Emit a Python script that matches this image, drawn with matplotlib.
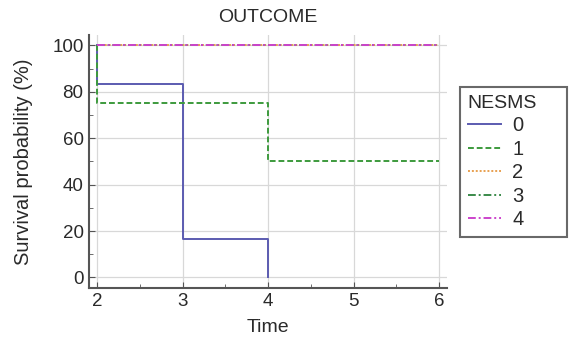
import matplotlib
matplotlib.use("Agg")
import matplotlib.pyplot as plt
from matplotlib.ticker import MultipleLocator

plt.rcParams["font.family"] = ["Liberation Sans", "DejaVu Sans"]

# Kaplan-Meier step data per NESMS group
groups = ["0", "1", "2", "3", "4"]
times = {
    "0": [2, 2, 3, 4],
    "1": [2, 2, 4, 6],
    "2": [2, 6],
    "3": [2, 6],
    "4": [2, 6],
}
survival = {
    "0": [100, 83.33, 16.67, 0],
    "1": [100, 75, 50, 50],
    "2": [100, 100],
    "3": [100, 100],
    "4": [100, 100],
}
colors = {"0": "#5b5bb0", "1": "#3d9a3d", "2": "#e8a050", "3": "#3a8a4a", "4": "#cc44cc"}
styles = {"0": "-", "1": (0, (3, 1.5)), "2": (0, (1, 1)), "3": (0, (4, 1.5, 1, 1.5)), "4": (0, (4, 1.5, 1, 1.5))}

fig = plt.figure(figsize=(5.75, 3.46), dpi=100)
ax = fig.add_axes([0.155, 0.168, 0.622, 0.731])

for g in groups:
    ax.step(times[g], survival[g], where="post", color=colors[g],
            linestyle=styles[g], linewidth=1.4, label=g)

ax.set_xlim(1.905, 6.09)
ax.set_ylim(-4.5, 104.5)
ax.xaxis.set_major_locator(MultipleLocator(1))
ax.xaxis.set_minor_locator(MultipleLocator(0.5))
ax.yaxis.set_major_locator(MultipleLocator(20))
ax.yaxis.set_minor_locator(MultipleLocator(10))
ax.grid(True, which="major", color="#d8d8d8", linewidth=0.9)
ax.set_axisbelow(True)
ax.tick_params(which="both", direction="in", colors="#555555", labelcolor="#2a2a2a", labelsize=13.5)
ax.tick_params(which="major", length=4, pad=4)
ax.tick_params(which="minor", length=3)
for side in ("top", "right"):
    ax.spines[side].set_visible(False)
for side in ("left", "bottom"):
    ax.spines[side].set_color("#555555")
    ax.spines[side].set_linewidth(1.5)

ax.set_title("OUTCOME", fontsize=14, color="#2a2a2a", pad=9)
ax.set_xlabel("Time", fontsize=14, color="#2a2a2a", labelpad=6)
ax.set_ylabel("Survival probability (%)", fontsize=14.5, color="#2a2a2a", labelpad=14)

leg = ax.legend(title="NESMS", loc="upper left", bbox_to_anchor=(1.036, 0.19, 0.30, 0.605),
                mode="expand", fontsize=14.5, title_fontsize=14, frameon=True, fancybox=False,
                handlelength=1.65, handletextpad=0.55, borderpad=0.4,
                labelspacing=0.22, alignment="left", borderaxespad=0)
leg.get_frame().set_edgecolor("#444444")
leg.get_frame().set_linewidth(1.5)
for t in leg.get_texts():
    t.set_color("#2a2a2a")
leg.get_title().set_color("#2a2a2a")

fig.savefig("out.png", dpi=100)
